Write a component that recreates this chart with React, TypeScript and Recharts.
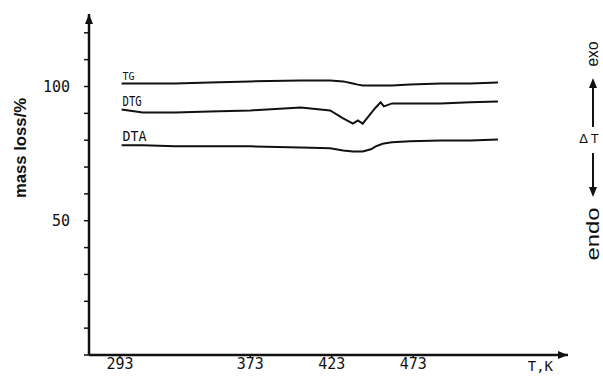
import { LineChart, Line, XAxis, YAxis, ReferenceDot, Customized } from "recharts";

// temperature, K
const temps = [294, 307, 327, 348, 373, 404, 422, 430, 436, 439, 442, 447, 450, 453, 455, 460, 471, 490, 508, 525];
const tgValues = [101.1, 101.1, 101.1, 101.5, 101.9, 102.2, 102.2, 101.9, 101.1, 100.7, 100.4, 100.4, 100.4, 100.4, 100.4, 100.4, 100.7, 101.1, 101.1, 101.5];
const dtgValues = [91.4, 90.3, 90.3, 90.7, 91.1, 92.2, 91.1, 88.1, 86.2, 87.4, 86.2, 90.0, 92.2, 94.1, 92.6, 93.7, 93.7, 93.7, 94.1, 94.4];
const dtaValues = [78.1, 78.1, 77.7, 77.7, 77.7, 77.3, 77.0, 76.2, 75.8, 75.8, 75.8, 76.6, 77.7, 78.4, 78.8, 79.2, 79.6, 79.9, 79.9, 80.3];

const xTicks = [293, 373, 423, 473];
const yTicks = [0, 10, 20, 30, 40, 50, 60, 70, 80, 90, 100, 110, 120];
const yLabelled = [50, 100];

const data = temps.map((t, i) => ({ t, tg: tgValues[i], dtg: dtgValues[i], dta: dtaValues[i] }));

const mono = "'DejaVu Sans Mono', 'Liberation Mono', monospace";
const ink = "#111";

function curveLabel(text: string, size: number, len: number) {
  return (props: any) => {
    if (props.index !== 0) return null;
    return (
      <text x={props.x + 1} y={props.y - 4} fontFamily={mono} fontSize={size} fill={ink} textLength={len} lengthAdjust="spacingAndGlyphs">
        {text}
      </text>
    );
  };
}

const Annotations = () => (
  <g fill={ink} fontFamily="'Liberation Sans', Arial, sans-serif">
    <text x={20} y={148} transform="rotate(-90 20 148)" textAnchor="middle" dominantBaseline="central" fontSize={16} fontWeight="bold" textLength={100} lengthAdjust="spacingAndGlyphs">
      mass loss/%
    </text>
    <text x={592} y={54} transform="rotate(-90 592 54)" textAnchor="middle" dominantBaseline="central" fontSize={16} textLength={25} lengthAdjust="spacingAndGlyphs">
      exo
    </text>
    <line x1={593} y1={127} x2={593} y2={84} stroke={ink} strokeWidth={2} />
    <path d="M589,88 L593,78 L597,88 Z" />
    <text x={589} y={143} textAnchor="middle" fontSize={13}>Δ T</text>
    <line x1={593} y1={153} x2={593} y2={191} stroke={ink} strokeWidth={2} />
    <path d="M589,187 L593,197 L597,187 Z" />
    <text x={593} y={234} transform="rotate(-90 593 234)" textAnchor="middle" dominantBaseline="central" fontSize={18} textLength={53} lengthAdjust="spacingAndGlyphs">
      endo
    </text>
  </g>
);

const RightArrow = (props: any) => (
  <path d={`M${props.cx - 10},${props.cy - 4} L${props.cx},${props.cy} L${props.cx - 10},${props.cy + 4} Z`} fill={ink} />
);
const UpArrow = (props: any) => (
  <path d={`M${props.cx - 4},${props.cy + 10} L${props.cx},${props.cy} L${props.cx + 4},${props.cy + 10} Z`} fill={ink} />
);

export default function App() {
  return (
    <div style={{ position: "absolute", left: 0, top: 0, width: 603, height: 378, background: "#fff" }}>
      <LineChart width={603} height={378} data={data} margin={{ top: 14, right: 35, left: 0, bottom: 0 }}>
        <XAxis
          dataKey="t"
          type="number"
          domain={[274, 568]}
          ticks={xTicks}
          allowDataOverflow
          height={23}
          axisLine={{ stroke: ink, strokeWidth: 2.5 }}
          tickLine={{ stroke: ink, strokeWidth: 1.5 }}
          tickSize={3}
          tickMargin={0}
          tick={{ fill: ink, fontFamily: mono, fontSize: 15 }}
          label={{ value: "T,K", position: "insideRight", offset: 15, fill: ink, fontFamily: mono, fontSize: 14 }}
        />
        <YAxis
          type="number"
          domain={[0, 127]}
          ticks={yTicks}
          allowDataOverflow
          width={89}
          axisLine={{ stroke: ink, strokeWidth: 2.5 }}
          tickLine={{ stroke: ink, strokeWidth: 1.5 }}
          tickSize={5}
          tickMargin={14}
          tickFormatter={(v: number) => (yLabelled.includes(v) ? String(v) : "")}
          tick={{ fill: ink, fontFamily: mono, fontSize: 15 }}
        />
        <Line dataKey="tg" type="linear" stroke={ink} strokeWidth={2} dot={false} isAnimationActive={false} label={curveLabel("TG", 11, 12)} />
        <Line dataKey="dtg" type="linear" stroke={ink} strokeWidth={2} dot={false} isAnimationActive={false} label={curveLabel("DTG", 14, 19)} />
        <Line dataKey="dta" type="linear" stroke={ink} strokeWidth={2} dot={false} isAnimationActive={false} label={curveLabel("DTA", 14, 24)} />
        <ReferenceDot x={568} y={0} r={0} ifOverflow="visible" shape={RightArrow} />
        <ReferenceDot x={274} y={127} r={0} ifOverflow="visible" shape={UpArrow} />
        <Customized component={Annotations} />
      </LineChart>
    </div>
  );
}
